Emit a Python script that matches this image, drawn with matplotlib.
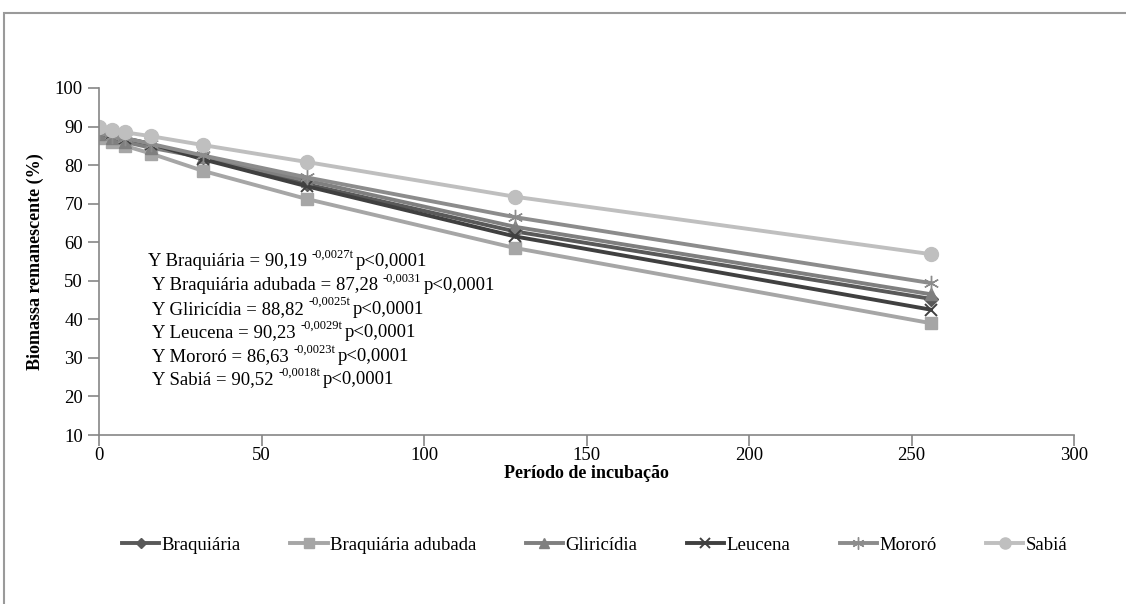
import matplotlib
matplotlib.use("Agg")
import matplotlib.pyplot as plt
from matplotlib.patches import Rectangle

plt.rcParams['font.family'] = ['Liberation Serif', 'DejaVu Serif']

days = [0, 4, 8, 16, 32, 64, 128, 256]
braquiaria = [88.0, 87.5, 86.5, 85.0, 82.0, 75.0, 62.8, 45.3]
braquiaria_adubada = [87.0, 86.0, 85.0, 83.0, 78.5, 71.2, 58.5, 39.0]
gliricidia = [88.0, 87.0, 86.0, 84.5, 82.0, 76.0, 64.0, 46.5]
leucena = [89.0, 88.0, 87.0, 85.5, 81.5, 74.5, 61.5, 42.5]
mororo = [88.5, 87.5, 87.0, 85.5, 82.5, 76.8, 66.5, 49.4]
sabia = [90.0, 89.0, 88.5, 87.5, 85.2, 80.8, 71.8, 56.9]

series_names = ["Braquiária", "Braquiária adubada", "Gliricídia", "Leucena", "Mororó", "Sabiá"]
series_values = [braquiaria, braquiaria_adubada, gliricidia, leucena, mororo, sabia]
colors = ["#595959", "#a6a6a6", "#7f7f7f", "#404040", "#8c8c8c", "#bfbfbf"]
markers = ["D", "s", "^", "x", (6, 2, 0), "o"]
msizes = [7, 9, 9, 9, 11, 10]

eq_names = ["Braquiária", "Braquiária adubada", "Gliricídia", "Leucena", "Mororó", "Sabiá"]
eq_coef = ["90,19", "87,28", "88,82", "90,23", "86,63", "90,52"]
eq_exp = ["-0,0027t", "-0,0031", "-0,0025t", "-0,0029t", "-0,0023t", "-0,0018t"]
eq_p = "p<0,0001"

fig = plt.figure(figsize=(11.26, 6.04), dpi=100)
ax = fig.add_axes([99/1126, 1 - 435/604, (1074 - 99)/1126, (435 - 88)/604])

for name, vals, c, m, ms in zip(series_names, series_values, colors, markers, msizes):
    if m == "x" or isinstance(m, tuple):
        ax.plot(days, vals, color=c, lw=2.8, marker=m, markersize=ms,
                markeredgewidth=1.4 if m == "x" else 1.0, markeredgecolor=c, label=name)
    else:
        ax.plot(days, vals, color=c, lw=2.8, marker=m, markersize=ms,
                markeredgecolor=c, markerfacecolor=c, label=name)

ax.set_xlim(0, 300)
ax.set_ylim(10, 100)
ax.set_xticks(range(0, 301, 50))
ax.set_yticks(range(10, 101, 10))
for s in ("top", "right"):
    ax.spines[s].set_visible(False)
for s in ("left", "bottom"):
    ax.spines[s].set_color("#868686")
    ax.spines[s].set_linewidth(1.2)
ax.tick_params(axis="both", direction="out", length=8, width=1.2, color="#868686",
               labelsize=13.5, labelcolor="black")
ax.tick_params(axis="x", pad=1)
ax.set_xlabel("Período de incubação", fontsize=13, fontweight="bold", labelpad=0)
ax.set_ylabel("Biomassa remanescente (%)", fontsize=13, fontweight="bold", labelpad=8)

fig.canvas.draw()
renderer = fig.canvas.get_renderer()
y0 = 262
for i, (n, c, e) in enumerate(zip(eq_names, eq_coef, eq_exp)):
    xpx = 148 if i == 0 else 152
    ypx = y0 + i * 23.6
    t1 = fig.text(xpx / 1126, 1 - ypx / 604, "Y " + n + " = " + c + " ",
                  fontsize=13.5, va="center", ha="left")
    bb = t1.get_window_extent(renderer)
    t2 = fig.text(bb.x1 / 1126, 1 - (ypx - 7) / 604, e, fontsize=9, va="center", ha="left")
    bb2 = t2.get_window_extent(renderer)
    fig.text((bb2.x1 + 2) / 1126, 1 - ypx / 604, eq_p, fontsize=13.5, va="center", ha="left")

handles, labels = ax.get_legend_handles_labels()
fig.legend(handles, labels, loc="center", bbox_to_anchor=(0.528, 1 - 545/604), ncol=6,
           frameon=False, fontsize=13.5, handlelength=2.0, columnspacing=2.65,
           handletextpad=0.1, markerscale=0.8)

fig.patches.append(Rectangle((4/1126, -0.05), 1.2, 1 - 13/604 + 0.05,
                             transform=fig.transFigure, fill=False,
                             edgecolor="#9a9a9a", lw=1.5))

fig.savefig("out.png", dpi=100)
